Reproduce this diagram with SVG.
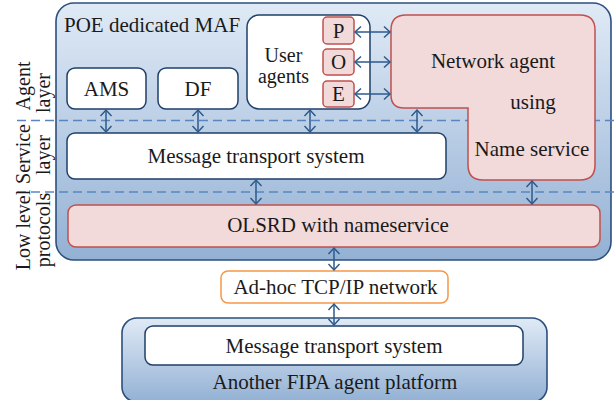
<svg xmlns="http://www.w3.org/2000/svg" width="614" height="400" viewBox="0 0 614 400">
<defs>
<linearGradient id="gMain" x1="0" y1="0" x2="0" y2="1">
<stop offset="0" stop-color="#e0eaf6"/>
<stop offset="1" stop-color="#93b1d4"/>
</linearGradient>
<linearGradient id="gBot" x1="0" y1="0" x2="0" y2="1">
<stop offset="0" stop-color="#e0eaf6"/>
<stop offset="1" stop-color="#93b1d4"/>
</linearGradient>
<marker id="ah" viewBox="-8 -7 10 14" refX="0" refY="0" markerWidth="10" markerHeight="14" markerUnits="userSpaceOnUse" orient="auto-start-reverse">
<path d="M-6,-5.5 L0,0 L-6,5.5" fill="none" stroke="#2d5a8c" stroke-width="1.5"/>
</marker>
<style>
text{font-family:"Liberation Serif","Times New Roman",serif;font-size:21px;fill:#1a1a1a}
.c{text-anchor:middle}
.s{font-size:20px}
.cont{stroke:#2c4f7c;stroke-width:1.6}
.wbox{fill:#ffffff;stroke:#1f3f6a;stroke-width:1.5}
.pbox{fill:#f2dada;stroke:#c0504d;stroke-width:1.5}
.obox{fill:#ffffff;stroke:#f79646;stroke-width:1.5}
.dash{stroke:#5a86c0;stroke-width:1.4;stroke-dasharray:9 5;fill:none}
.arr{stroke:#2d5a8c;stroke-width:1.5;fill:none;marker-start:url(#ah);marker-end:url(#ah)}
</style>
</defs>

<g id="poe-maf">
<rect class="cont" x="56" y="3" width="555" height="257" rx="18" fill="url(#gMain)"/>
<text x="64" y="32">POE dedicated MAF</text>
</g>

<g id="another-platform">
<rect class="cont" x="122" y="318" width="425" height="84" rx="15" fill="url(#gBot)"/>
<text class="c" x="335" y="389">Another FIPA agent platform</text>
</g>

<g id="layers">
<line class="dash" x1="17" y1="120.5" x2="614" y2="120.5"/>
<line class="dash" x1="17" y1="192" x2="614" y2="192"/>
<text class="c s" transform="translate(30,86) rotate(-90)">Agent</text>
<text class="c s" transform="translate(50,93) rotate(-90)">layer</text>
<text class="c s" transform="translate(30,154) rotate(-90)">Service</text>
<text class="c s" transform="translate(50,155) rotate(-90)">layer</text>
<text class="c s" transform="translate(30,230) rotate(-90)">Low level</text>
<text class="c s" transform="translate(50,230) rotate(-90)">protocols</text>
</g>

<g id="ams">
<rect class="wbox" x="67" y="68" width="79" height="41" rx="8"/>
<text class="c" x="106.5" y="96">AMS</text>
</g>
<g id="df">
<rect class="wbox" x="158" y="68" width="80" height="41" rx="8"/>
<text class="c" x="198" y="96">DF</text>
</g>
<g id="user-agents">
<rect class="wbox" x="247" y="15" width="123" height="94" rx="12"/>
<text class="c s" x="283.5" y="62">User</text>
<text class="c s" x="283.5" y="83">agents</text>
</g>
<g id="p">
<rect class="pbox" x="323" y="17" width="31" height="27" rx="4"/>
<text class="c" x="338.5" y="38">P</text>
</g>
<g id="o">
<rect class="pbox" x="323" y="49" width="31" height="26" rx="4"/>
<text class="c" x="338.5" y="69">O</text>
</g>
<g id="e">
<rect class="pbox" x="323" y="81" width="31" height="26" rx="4"/>
<text class="c" x="338.5" y="101">E</text>
</g>
<g id="network-agent">
<path class="pbox" d="M406,15 H580 Q595,15 595,30 V165 Q595,180 580,180 H483 Q468,180 468,165 V108 H404 Q391,108 391,95 V30 Q391,15 406,15 Z"/>
<text class="c" x="493" y="68">Network agent</text>
<text class="c" x="533" y="109">using</text>
<text class="c" x="532" y="156">Name service</text>
</g>
<g id="mts">
<rect class="wbox" x="67" y="133" width="379" height="46" rx="8"/>
<text class="c" x="256" y="163">Message transport system</text>
</g>
<g id="olsrd">
<rect class="pbox" x="68" y="205" width="532" height="42" rx="8"/>
<text class="c" x="338" y="232">OLSRD with nameservice</text>
</g>
<g id="adhoc">
<rect class="obox" x="221" y="271" width="227" height="32" rx="7"/>
<text class="c" x="335.5" y="294">Ad-hoc TCP/IP network</text>
</g>
<g id="mts2">
<rect class="wbox" x="145" y="326" width="378" height="39" rx="8"/>
<text class="c" x="334" y="353">Message transport system</text>
</g>

<g id="connectors">
<line class="arr" x1="355" y1="32" x2="390" y2="32"/>
<line class="arr" x1="355" y1="62" x2="390" y2="62"/>
<line class="arr" x1="355" y1="94" x2="390" y2="94"/>
<line class="arr" x1="106" y1="110" x2="106" y2="132"/>
<line class="arr" x1="198" y1="110" x2="198" y2="132"/>
<line class="arr" x1="310" y1="110" x2="310" y2="132"/>
<line class="arr" x1="417" y1="110" x2="417" y2="132"/>
<line class="arr" x1="256" y1="180" x2="256" y2="204"/>
<line class="arr" x1="532" y1="181" x2="532" y2="204"/>
<line class="arr" x1="334" y1="248" x2="334" y2="270"/>
<line class="arr" x1="334" y1="304" x2="334" y2="325"/>
</g>
</svg>
